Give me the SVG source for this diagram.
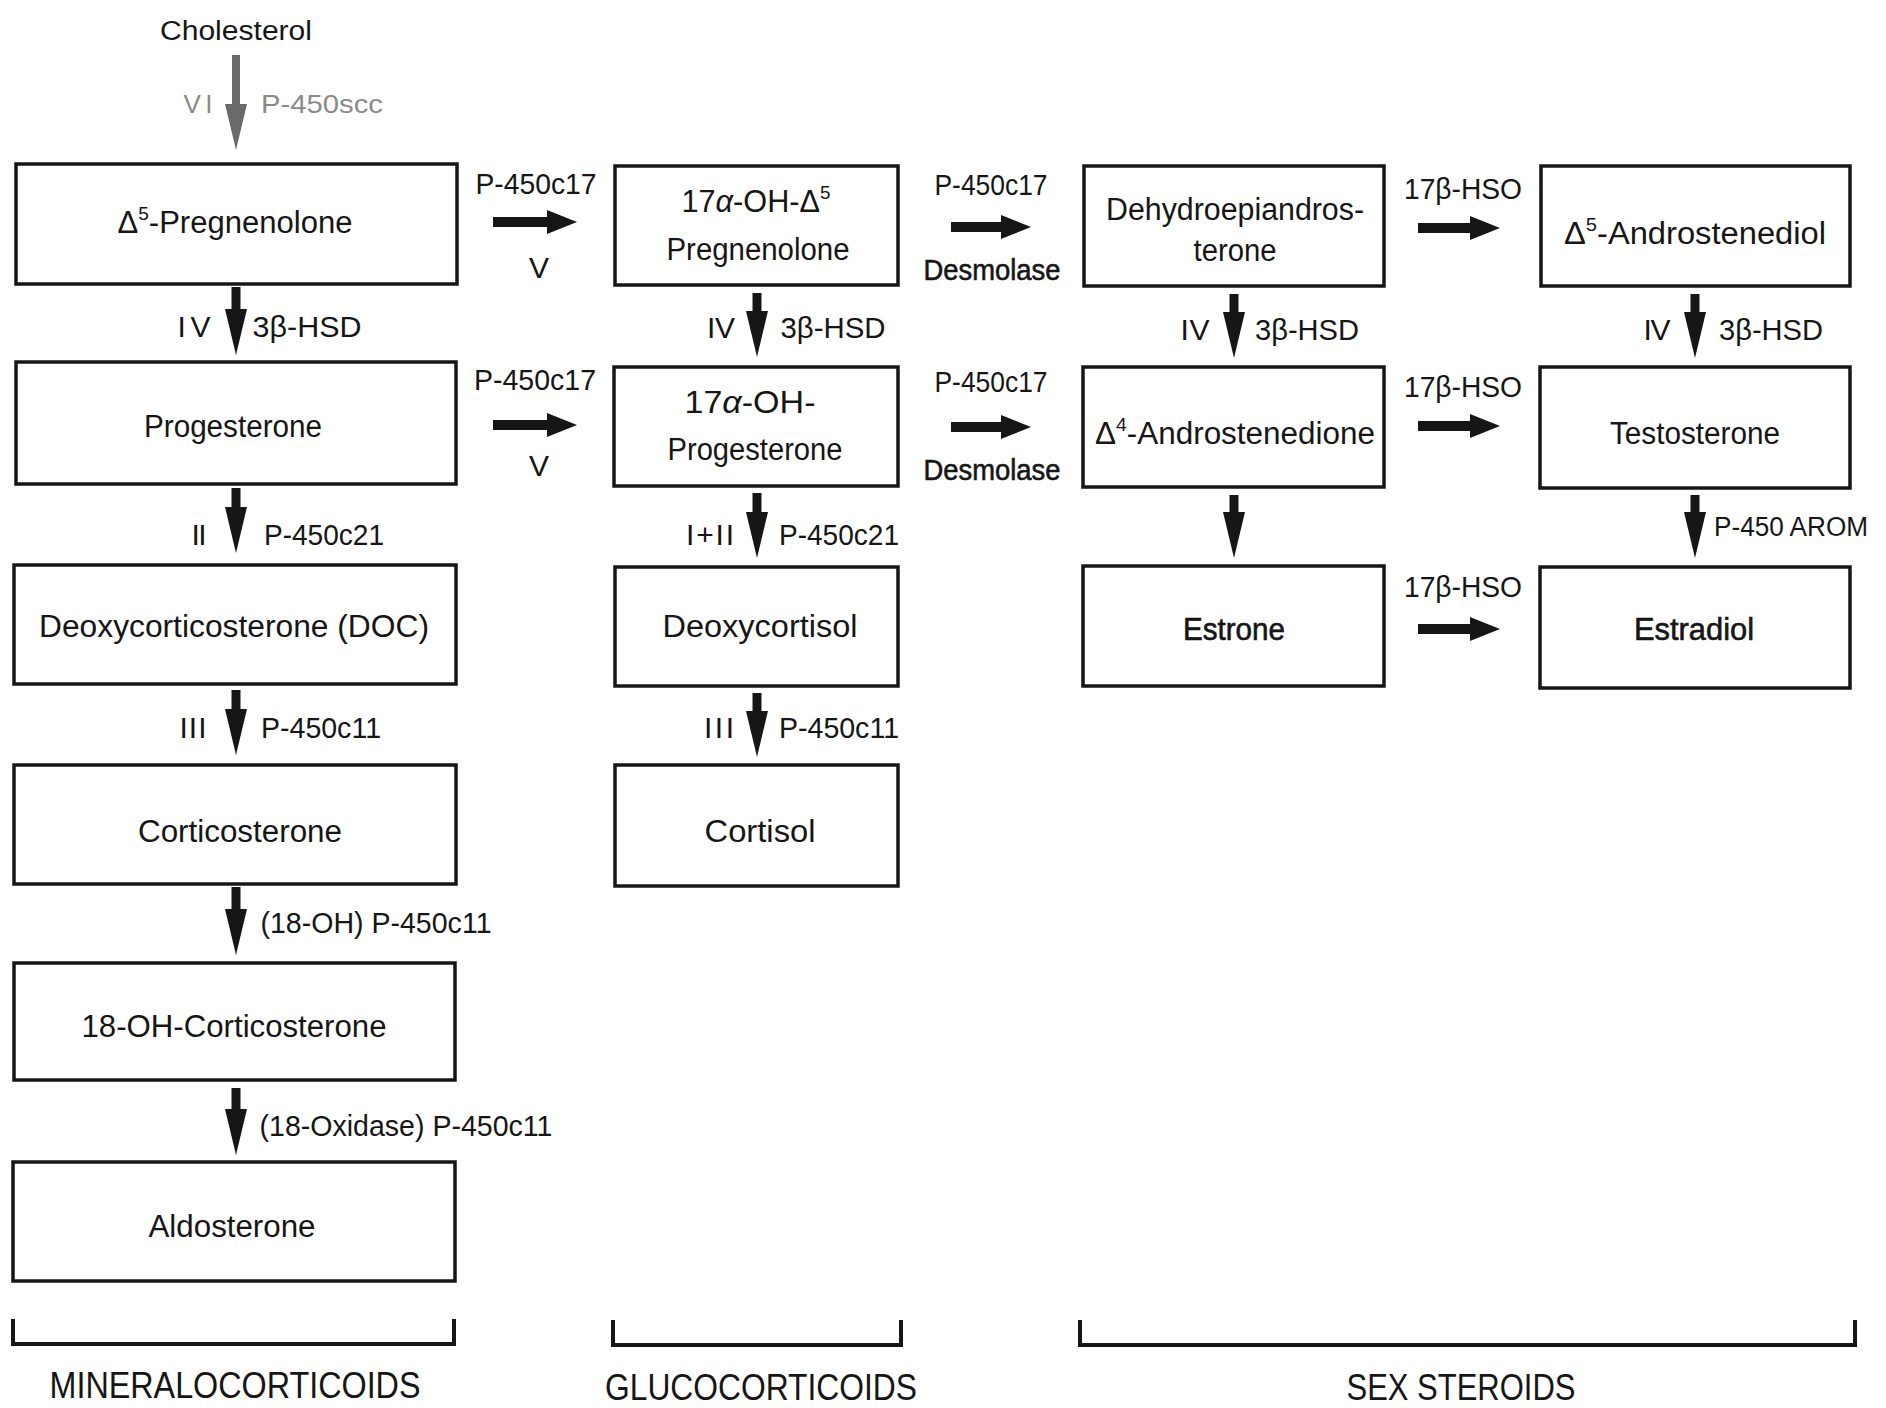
<svg xmlns="http://www.w3.org/2000/svg" width="1886" height="1408" viewBox="0 0 1886 1408">
<style>
text{font-family:"Liberation Sans",Arial,sans-serif;fill:#161616;text-anchor:middle}
.bx{font-size:31px}
.lb{font-size:30px}
.hv{stroke:#161616;stroke-width:0.6}
.gr{fill:#8a8a8a;font-size:26px}
.cap{font-size:36px}
.box{fill:#fff;stroke:#161616;stroke-width:3.5}
.av{stroke:#161616;stroke-width:9;fill:none;marker-end:url(#mv)}
.ah{stroke:#161616;stroke-width:10;fill:none;marker-end:url(#mh)}
.br{fill:none;stroke:#161616;stroke-width:4}
</style>
<defs>
<marker id="mv" markerUnits="userSpaceOnUse" viewBox="0 0 46 22" markerWidth="46" markerHeight="22" refX="10" refY="11" orient="auto"><path d="M0,0 L46,11 L0,22 z" fill="#161616"/></marker>
<marker id="mg" markerUnits="userSpaceOnUse" viewBox="0 0 46 22" markerWidth="46" markerHeight="22" refX="10" refY="11" orient="auto"><path d="M0,0 L46,11 L0,22 z" fill="#6a6a6a"/></marker>
<marker id="mh" markerUnits="userSpaceOnUse" viewBox="0 0 30 24" markerWidth="30" markerHeight="24" refX="8" refY="12" orient="auto"><path d="M0,0 L30,12 L0,24 z" fill="#161616"/></marker>
</defs>
<rect width="1886" height="1408" fill="#fff"/>

<g id="cholesterol"><text x="236" y="40" font-size="27" textLength="152" lengthAdjust="spacingAndGlyphs">Cholesterol</text></g>

<g id="pregnenolone"><rect class="box" x="16" y="164" width="441" height="120"/><text class="bx" x="235" y="233" textLength="235" lengthAdjust="spacingAndGlyphs">Δ<tspan dy="-13" font-size="19">5</tspan><tspan dy="13">-Pregnenolone</tspan></text></g>
<g id="progesterone"><rect class="box" x="16" y="362" width="440" height="122"/><text class="bx" x="233" y="437" textLength="178" lengthAdjust="spacingAndGlyphs">Progesterone</text></g>
<g id="doc"><rect class="box" x="14" y="565" width="442" height="119"/><text class="bx" x="234" y="637" textLength="390" lengthAdjust="spacingAndGlyphs">Deoxycorticosterone (DOC)</text></g>
<g id="corticosterone"><rect class="box" x="14" y="765" width="442" height="119"/><text class="bx" x="240" y="842" textLength="204" lengthAdjust="spacingAndGlyphs">Corticosterone</text></g>
<g id="oh-corticosterone"><rect class="box" x="14" y="963" width="441" height="117"/><text class="bx" x="234" y="1037" textLength="305" lengthAdjust="spacingAndGlyphs">18-OH-Corticosterone</text></g>
<g id="aldosterone"><rect class="box" x="13" y="1162" width="442" height="119"/><text class="bx" x="232" y="1237" textLength="167" lengthAdjust="spacingAndGlyphs">Aldosterone</text></g>

<g id="oh-pregnenolone"><rect class="box" x="615" y="166" width="283" height="119"/><text class="bx" x="756" y="212" textLength="149" lengthAdjust="spacingAndGlyphs">17<tspan font-style="italic">α</tspan>-OH-Δ<tspan dy="-13" font-size="19">5</tspan></text><text class="bx" x="758" y="260" textLength="183" lengthAdjust="spacingAndGlyphs">Pregnenolone</text></g>
<g id="oh-progesterone"><rect class="box" x="614" y="367" width="284" height="119"/><text class="bx" x="750" y="413" textLength="131" lengthAdjust="spacingAndGlyphs">17<tspan font-style="italic">α</tspan>-OH-</text><text class="bx" x="755" y="460" textLength="175" lengthAdjust="spacingAndGlyphs">Progesterone</text></g>
<g id="deoxycortisol"><rect class="box" x="615" y="567" width="283" height="119"/><text class="bx" x="760" y="637" textLength="195" lengthAdjust="spacingAndGlyphs">Deoxycortisol</text></g>
<g id="cortisol"><rect class="box" x="615" y="765" width="283" height="121"/><text class="bx" x="760" y="842" textLength="111" lengthAdjust="spacingAndGlyphs">Cortisol</text></g>

<g id="dhea"><rect class="box" x="1084" y="166" width="300" height="120"/><text class="bx" x="1235" y="220" textLength="258" lengthAdjust="spacingAndGlyphs">Dehydroepiandros-</text><text class="bx" x="1235" y="261" textLength="83" lengthAdjust="spacingAndGlyphs">terone</text></g>
<g id="androstenedione"><rect class="box" x="1083" y="367" width="301" height="120"/><text class="bx" x="1235" y="444" textLength="280" lengthAdjust="spacingAndGlyphs">Δ<tspan dy="-13" font-size="19">4</tspan><tspan dy="13">-Androstenedione</tspan></text></g>
<g id="estrone"><rect class="box" x="1083" y="566" width="301" height="120"/><text class="bx hv" x="1234" y="640" textLength="102" lengthAdjust="spacingAndGlyphs">Estrone</text></g>

<g id="androstenediol"><rect class="box" x="1541" y="166" width="309" height="120"/><text class="bx" x="1695" y="244" textLength="262" lengthAdjust="spacingAndGlyphs">Δ<tspan dy="-13" font-size="19">5</tspan><tspan dy="13">-Androstenediol</tspan></text></g>
<g id="testosterone"><rect class="box" x="1540" y="367" width="310" height="121"/><text class="bx" x="1695" y="444" textLength="170" lengthAdjust="spacingAndGlyphs">Testosterone</text></g>
<g id="estradiol"><rect class="box" x="1540" y="567" width="310" height="121"/><text class="bx hv" x="1694" y="640" textLength="120" lengthAdjust="spacingAndGlyphs">Estradiol</text></g>

<g id="connectors">
<line x1="236" y1="55" x2="236" y2="114" stroke="#6a6a6a" stroke-width="8" marker-end="url(#mg)"/>
<line class="av" x1="236" y1="287" x2="236" y2="319"/>
<line class="av" x1="236" y1="488" x2="236" y2="517"/>
<line class="av" x1="236" y1="690" x2="236" y2="719"/>
<line class="av" x1="236" y1="887" x2="236" y2="919"/>
<line class="av" x1="236" y1="1088" x2="236" y2="1119"/>
<line class="av" x1="757" y1="293" x2="757" y2="321"/>
<line class="av" x1="757" y1="493" x2="757" y2="522"/>
<line class="av" x1="757" y1="693" x2="757" y2="721"/>
<line class="av" x1="1234" y1="294" x2="1234" y2="322"/>
<line class="av" x1="1234" y1="495" x2="1234" y2="522"/>
<line class="av" x1="1695" y1="294" x2="1695" y2="322"/>
<line class="av" x1="1695" y1="495" x2="1695" y2="522"/>
<line class="ah" x1="493" y1="222" x2="555" y2="222" stroke="#3a3a3a"/>
<line class="ah" x1="493" y1="425" x2="555" y2="425"/>
<line class="ah" x1="951" y1="227" x2="1009" y2="227"/>
<line class="ah" x1="951" y1="427" x2="1009" y2="427"/>
<line class="ah" x1="1418" y1="228" x2="1478" y2="228"/>
<line class="ah" x1="1418" y1="426" x2="1478" y2="426"/>
<line class="ah" x1="1418" y1="629" x2="1478" y2="629"/>
</g>

<g id="labels">
<text class="gr" x="198" y="113" textLength="29">VI</text>
<text class="gr" x="322" y="113" textLength="122" lengthAdjust="spacingAndGlyphs">P-450scc</text>
<text class="lb" x="194" y="337" textLength="33">IV</text>
<text class="lb" x="307" y="337" textLength="109" lengthAdjust="spacingAndGlyphs">3β-HSD</text>
<text class="lb" x="199" y="545" textLength="15">II</text>
<text class="lb" x="324" y="545" textLength="120" lengthAdjust="spacingAndGlyphs">P-450c21</text>
<text class="lb" x="193" y="738" textLength="27">III</text>
<text class="lb" x="321" y="738" textLength="120" lengthAdjust="spacingAndGlyphs">P-450c11</text>
<text class="lb" x="376" y="933" textLength="231" lengthAdjust="spacingAndGlyphs">(18-OH) P-450c11</text>
<text class="lb" x="406" y="1136" textLength="293" lengthAdjust="spacingAndGlyphs">(18-Oxidase) P-450c11</text>

<text class="lb" x="721" y="338" textLength="28">IV</text>
<text class="lb" x="833" y="338" textLength="105" lengthAdjust="spacingAndGlyphs">3β-HSD</text>
<text class="lb" x="710" y="545" textLength="48">I+II</text>
<text class="lb" x="839" y="545" textLength="120" lengthAdjust="spacingAndGlyphs">P-450c21</text>
<text class="lb" x="719" y="738" textLength="30">III</text>
<text class="lb" x="839" y="738" textLength="120" lengthAdjust="spacingAndGlyphs">P-450c11</text>

<text class="lb" x="536" y="194" textLength="121" lengthAdjust="spacingAndGlyphs">P-450c17</text>
<text class="lb" x="539" y="278">V</text>
<text class="lb" x="535" y="390" textLength="122" lengthAdjust="spacingAndGlyphs">P-450c17</text>
<text class="lb" x="539" y="476">V</text>
<text class="lb" x="991" y="195" textLength="113" lengthAdjust="spacingAndGlyphs">P-450c17</text>
<text class="lb hv" x="992" y="280" textLength="137" lengthAdjust="spacingAndGlyphs">Desmolase</text>
<text class="lb" x="991" y="392" textLength="113" lengthAdjust="spacingAndGlyphs">P-450c17</text>
<text class="lb hv" x="992" y="480" textLength="137" lengthAdjust="spacingAndGlyphs">Desmolase</text>

<text class="lb" x="1463" y="199" textLength="118" lengthAdjust="spacingAndGlyphs">17β-HSO</text>
<text class="lb" x="1463" y="397" textLength="118" lengthAdjust="spacingAndGlyphs">17β-HSO</text>
<text class="lb" x="1463" y="597" textLength="118" lengthAdjust="spacingAndGlyphs">17β-HSO</text>
<text class="lb" x="1195" y="340" textLength="29">IV</text>
<text class="lb" x="1307" y="340" textLength="104" lengthAdjust="spacingAndGlyphs">3β-HSD</text>
<text class="lb" x="1657" y="340" textLength="27">IV</text>
<text class="lb" x="1771" y="340" textLength="104" lengthAdjust="spacingAndGlyphs">3β-HSD</text>
<text x="1714" y="536" font-size="27" style="text-anchor:start" textLength="154" lengthAdjust="spacingAndGlyphs">P-450 AROM</text>
</g>

<g id="groups">
<path class="br" d="M13,1319 V1344 H454 V1319"/>
<path class="br" d="M613,1320 V1345 H901 V1320"/>
<path class="br" d="M1080,1320 V1345 H1855 V1320"/>
<text class="cap" x="235" y="1398" textLength="371" lengthAdjust="spacingAndGlyphs">MINERALOCORTICOIDS</text>
<text class="cap" x="761" y="1400" textLength="312" lengthAdjust="spacingAndGlyphs">GLUCOCORTICOIDS</text>
<text class="cap" x="1461" y="1400" textLength="229" lengthAdjust="spacingAndGlyphs">SEX STEROIDS</text>
</g>
</svg>
